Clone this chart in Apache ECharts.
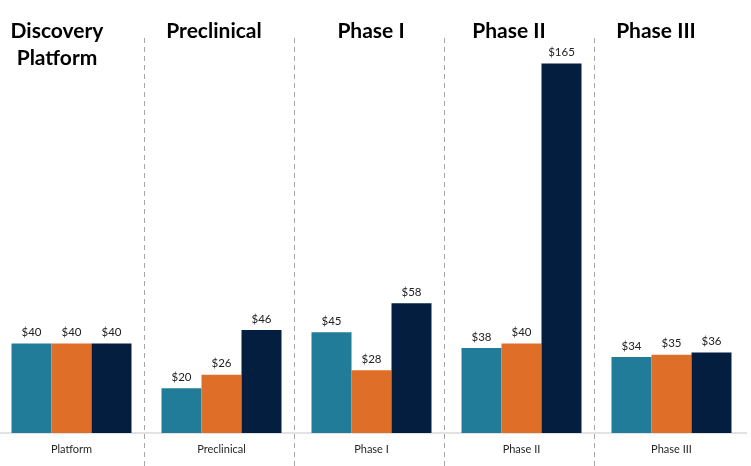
<!DOCTYPE html>
<html>
<head>
<meta charset="utf-8">
<script src="https://cdn.jsdelivr.net/npm/echarts@6/dist/echarts.min.js"></script>
<style>
  html, body { margin: 0; padding: 0; background: #fff; }
  #chart { width: 751px; height: 466px; }
</style>
</head>
<body>
<div id="chart"></div>
<script>
// categories along the bottom
var categories = ['Platform', 'Preclinical', 'Phase I', 'Phase II', 'Phase III'];
// stage headers shown across the top
var stageTitles = ['Discovery\nPlatform', 'Preclinical', 'Phase I', 'Phase II', 'Phase III'];
var stageTitleX = [57, 214, 371, 509, 656];

// three bars per stage ($)
var seriesTeal = [40, 20, 45, 38, 34];
var seriesOrange = [40, 26, 28, 40, 35];
var seriesNavy = [40, 46, 58, 165, 36];

var colors = ['#207c98', '#df6f28', '#041e40'];

var myChart = echarts.init(document.getElementById('chart'));

var labelStyle = {
    show: true,
    position: 'top',
    distance: 5,
    formatter: '${c}',
    color: '#222',
    fontFamily: 'Lato',
    fontSize: 11.5
};

function bar(name, data, color) {
    return {
        name: name,
        type: 'bar',
        data: data,
        barWidth: 40,
        barGap: '0%',
        itemStyle: { color: color },
        label: labelStyle
    };
}

var titles = stageTitles.map(function (t, i) {
    return {
        text: t,
        left: stageTitleX[i],
        top: 18,
        padding: 0,
        textAlign: 'center',
        textStyle: {
            fontFamily: 'Lato',
            fontWeight: 'bold',
            fontSize: 21,
            lineHeight: 27,
            color: '#000'
        }
    };
});

var option = {
    backgroundColor: '#fff',
    animation: false,
    title: titles,
    grid: [
        { left: -3.5, width: 750, top: 30, bottom: 33, outerBoundsMode: 'none' },
        { left: -6, width: 750, top: 38, bottom: 0, outerBoundsMode: 'none' }
    ],
    xAxis: [
        {
            type: 'category',
            gridIndex: 0,
            data: categories,
            axisLine: { lineStyle: { color: '#d9d9d9', width: 1.5 } },
            axisTick: { show: false },
            axisLabel: { color: '#262626', fontFamily: 'Lato', fontSize: 11, margin: 11 }
        },
        {
            type: 'category',
            gridIndex: 1,
            data: categories,
            axisLine: { show: false },
            axisTick: { show: false },
            axisLabel: { show: false },
            splitLine: {
                show: true,
                showMinLine: false,
                showMaxLine: false,
                lineStyle: { color: '#a6a6a6', type: [5, 4], width: 1 }
            }
        }
    ],
    yAxis: [
        { type: 'value', gridIndex: 0, min: 0, max: 180, show: false },
        { type: 'value', gridIndex: 1, min: 0, max: 1, show: false }
    ],
    series: [
        bar('Teal', seriesTeal, colors[0]),
        bar('Orange', seriesOrange, colors[1]),
        bar('Navy', seriesNavy, colors[2])
    ]
};

myChart.setOption(option);
</script>
</body>
</html>
